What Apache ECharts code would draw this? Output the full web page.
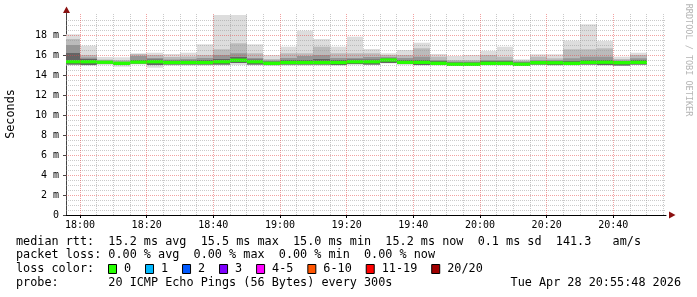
<!DOCTYPE html>
<html><head><meta charset="utf-8">
<script src="https://cdn.jsdelivr.net/npm/echarts@6/dist/echarts.min.js"></script>
<style>html,body{margin:0;padding:0;background:#fff}#c{width:697px;height:297px}</style>
</head><body><div id="c"></div>
<script>
// ---- data ----
const slotStart = ['17:55','18:00','18:05','18:10','18:15','18:20','18:25','18:30','18:35','18:40','18:45','18:50','18:55',
  '19:00','19:05','19:10','19:15','19:20','19:25','19:30','19:35','19:40','19:45','19:50','19:55',
  '20:00','20:05','20:10','20:15','20:20','20:25','20:30','20:35','20:40','20:45'];
const slotMinutes = 5;
const pingMedian = [15.33,15.33,15.28,15.17,15.30,15.33,15.25,15.25,15.25,15.33,15.48,15.33,15.17,15.25,15.25,15.25,15.25,15.33,15.33,15.50,15.27,15.27,15.17,15.07,15.07,15.17,15.17,15.07,15.23,15.22,15.17,15.27,15.28,15.23,15.27];
const pingMax = [18.07,16.93,15.80,15.77,16.17,16.23,16.10,16.23,17.07,20.00,20.00,17.07,16.00,16.83,18.43,17.60,16.83,17.83,16.60,16.17,16.50,17.23,16.10,15.90,16.00,16.40,16.83,15.57,16.07,16.07,17.43,19.07,17.40,15.83,16.23];
const pingHi2 = [17.60,16.00,15.55,15.50,16.10,16.00,15.80,15.85,16.00,16.57,17.17,16.17,15.60,16.17,16.17,16.83,16.17,16.17,16.17,16.00,16.00,16.67,15.83,15.50,15.50,16.00,15.83,15.45,15.83,15.67,16.57,16.57,16.67,15.60,16.00];
const pingHi3 = [17.00,15.75,15.45,15.35,15.90,15.70,15.55,15.60,15.70,16.00,16.17,15.70,15.45,15.70,15.90,16.00,15.70,15.70,15.80,15.80,15.70,15.83,15.50,15.35,15.35,15.50,15.50,15.35,15.50,15.50,15.67,15.83,15.83,15.45,15.67];
const pingHi4 = [16.20,15.60,15.40,15.30,15.50,15.55,15.45,15.45,15.50,15.60,15.80,15.55,15.35,15.50,15.50,15.60,15.50,15.55,15.55,15.65,15.50,15.50,15.40,15.25,15.25,15.40,15.40,15.25,15.40,15.40,15.40,15.50,15.50,15.40,15.50];
const pingLo = [15.05,15.00,15.15,15.00,15.15,15.00,15.05,15.05,15.05,15.05,15.20,15.05,15.00,15.05,15.05,15.05,15.00,15.10,15.05,15.20,15.10,15.00,15.00,14.95,14.95,15.00,15.00,14.95,15.05,15.00,15.00,15.05,15.00,14.95,15.05];
const pingMin = [14.97,14.93,15.00,14.83,15.05,14.73,14.95,14.95,14.95,14.97,15.00,14.97,14.90,14.95,14.95,14.95,14.93,15.00,15.00,15.15,15.00,14.95,14.95,14.90,14.90,14.95,14.95,14.90,15.00,14.93,14.95,15.00,14.93,14.90,15.00];
const medianHalf = 0.165;
const xTickLabels = ['18:00','18:20','18:40','19:00','19:20','19:40','20:00','20:20','20:40'];
const yTickValues = [0,2,4,6,8,10,12,14,16,18];
const axisStart = '17:55:48', axisEnd = '20:55:48';
const lossLabels = ['0','1','2','3','4-5','6-10','11-19','20/20'];
const lossColors = ['#26ff00','#00b8ff','#0059ff','#7e00ff','#ff00ff','#ff5500','#ff0000','#a00000'];
const statLine1 = 'median rtt:  15.2 ms avg  15.5 ms max  15.0 ms min  15.2 ms now  0.1 ms sd  141.3   am/s';
const statLine2 = 'packet loss: 0.00 % avg  0.00 % max  0.00 % min  0.00 % now';
const statLine3 = 'loss color:';
const probeLine = 'probe:       20 ICMP Echo Pings (56 Bytes) every 300s';
const dateLine = 'Tue Apr 28 20:55:48 2026';
const yTitle = 'Seconds';
const watermark = 'RRDTOOL / TOBI OETIKER';

// ---- helpers ----
function toMin(s){const p=s.split(':').map(Number);return p[0]*60+p[1]+(p[2]||0)/60;}
function fmtMin(v){const h=Math.floor(v/60),m=Math.round(v-h*60);return String(h).padStart(2,'0')+':'+String(m).padStart(2,'0');}
const xMin = toMin(axisStart), xMax = toMin(axisEnd);
const yMax = 20.2;
const FONT = '"DejaVu Sans Mono", "Liberation Mono", monospace';

function rectSeries(lo, hi, color, z){
  const data = slotStart.map((s,i)=>{const t=toMin(s);return [t,t+slotMinutes,lo[i],hi[i]];});
  return {type:'custom', z:z, clip:true, silent:true, encode:{x:[0,1],y:[2,3]}, data:data,
    renderItem:function(params, api){
      const a = api.coord([api.value(0), api.value(3)]);
      const b = api.coord([api.value(1), api.value(2)]);
      const x0 = Math.round(a[0]), x1 = Math.round(b[0]);
      return {type:'rect', shape:{x:x0, y:a[1], width:x1-x0, height:b[1]-a[1]}, style:{fill:color}};
    }};
}
const medLo = pingMedian.map(v=>v-medianHalf), medHi = pingMedian.map(v=>v+medianHalf);

// grid lines (on top, like rrdtool)
const vMinor=[], vMajor=[], hMinor=[], hMajor=[];
const majorX = xTickLabels.map(toMin);
for(let t=Math.ceil(xMin/5)*5; t<xMax; t+=5){ (majorX.indexOf(t)>=0?vMajor:vMinor).push([t,0]); }
for(let k=1;k<=39;k++){ const v=k*0.5; (yTickValues.indexOf(v)>=0?hMajor:hMinor).push([xMin,v]); }
function gridSeries(data, vertical, color){
  return {type:'custom', z:6, silent:true, clip:true, data:data,
    renderItem:function(params, api){
      if(vertical){
        const p0=api.coord([api.value(0),0]), p1=api.coord([api.value(0),yMax]);
        const x=Math.floor(p0[0])+0.5;
        return {type:'line', shape:{x1:x,y1:p0[1],x2:x,y2:p1[1]}, style:{stroke:color,lineWidth:1,lineDash:[1,1]}};
      } else {
        const p0=api.coord([xMin,api.value(1)]), p1=api.coord([xMax,api.value(1)]);
        const y=Math.floor(p0[1])+0.5;
        return {type:'line', shape:{x1:p0[0],y1:y,x2:p1[0],y2:y}, style:{stroke:color,lineWidth:1,lineDash:[1,1]}};
      }
    }};
}
const minorCol='rgba(150,150,150,0.5)', majorCol='rgba(230,70,70,0.5)';

// legend graphics
const graphics = [];
const lineY = [241.5, 255, 269, 282.5];
const textStyle = (t, x, y, align) => ({type:'text', x:x, y:y, silent:true,
  style:{text:t, font:'11.8px '+FONT, fill:'#000', align:align||'left', verticalAlign:'middle'}});
graphics.push(textStyle(statLine1, 16, lineY[0]));
graphics.push(textStyle(statLine2, 16, lineY[1]));
graphics.push(textStyle(statLine3, 16, lineY[2]));
graphics.push(textStyle(probeLine, 16, lineY[3]));
graphics.push(textStyle(dateLine, 681, lineY[3], 'right'));
let lx = 108.5;
lossLabels.forEach((lab,i)=>{
  graphics.push({type:'rect', silent:true, shape:{x:lx, y:264.5, width:8, height:9}, style:{fill:lossColors[i], stroke:'#000', lineWidth:1}});
  graphics.push(textStyle(lab, lx+15.5, lineY[2]));
  lx = lx + 15.5 + lab.length*7.12 + 14.4;
});
graphics.push({type:'text', x:10.5, y:114, rotation:Math.PI/2, silent:true,
  style:{text:yTitle, font:'11.8px '+FONT, fill:'#000', align:'center', verticalAlign:'middle'}});
graphics.push({type:'text', x:688.5, y:60, rotation:-Math.PI/2, silent:true,
  style:{text:watermark, font:'8.5px '+FONT, fill:'#b4b4b4', align:'center', verticalAlign:'middle'}});
graphics.push({type:'polygon', silent:true, shape:{points:[[63,13],[66.5,6.5],[70,13]]}, style:{fill:'#8b1010'}});
graphics.push({type:'polygon', silent:true, shape:{points:[[669,211.5],[675.5,215],[669,218.5]]}, style:{fill:'#8b1010'}});

const chart = echarts.init(document.getElementById('c'), null, {renderer:'canvas'});
chart.setOption({
  animation:false,
  backgroundColor:'#fff',
  grid:{left:66, right:31, top:13, bottom:82, containLabel:false},
  xAxis:{type:'value', min:xMin, max:xMax,
    axisLine:{show:true, lineStyle:{color:'#000', width:1}},
    axisTick:{show:true, length:3, lineStyle:{color:'#000'}, customValues:majorX},
    axisLabel:{customValues:majorX, formatter:fmtMin, color:'#000', fontFamily:FONT, fontSize:10, margin:5},
    splitLine:{show:false}},
  yAxis:{type:'value', min:0, max:yMax,
    axisLine:{show:true, lineStyle:{color:'#444', width:1}},
    axisTick:{show:true, length:3, lineStyle:{color:'#444'}, customValues:yTickValues},
    axisLabel:{customValues:yTickValues, formatter:v=>v===0?'0':(v+' m'), color:'#000', fontFamily:FONT, fontSize:10, margin:7},
    splitLine:{show:false}},
  series:[
    rectSeries(pingMin, pingMax, '#dddddd', 2),
    rectSeries(pingLo, pingHi2, '#bbbbbb', 3),
    rectSeries(pingLo, pingHi3, '#969696', 3),
    rectSeries(pingLo, pingHi4, '#646464', 3),
    rectSeries(medLo, medHi, lossColors[0], 4),
    gridSeries(vMinor, true, minorCol),
    gridSeries(hMinor, false, minorCol),
    gridSeries(vMajor, true, majorCol),
    gridSeries(hMajor, false, majorCol)
  ],
  graphic:graphics
});
</script></body></html>
